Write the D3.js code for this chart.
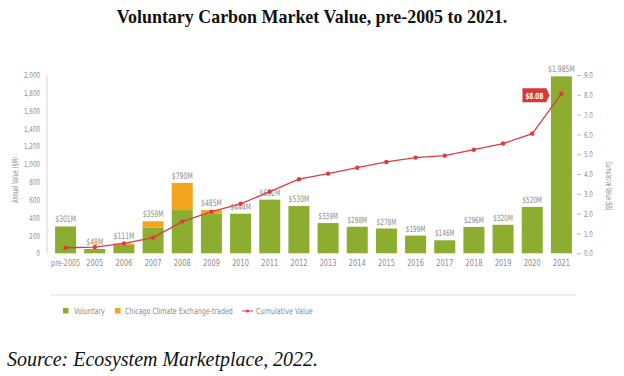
<!DOCTYPE html>
<html><head><meta charset="utf-8">
<script src="https://cdn.jsdelivr.net/npm/d3@7"></script>
<style>
body{margin:0;background:#fff;}
svg{display:block;}
.nar text, text.nar{font-family:"DejaVu Sans",sans-serif;}
</style></head>
<body>
<svg id="c" width="624" height="376"></svg>
<script>
const categories = ["pre-2005","2005","2006","2007","2008","2009","2010","2011","2012","2013","2014","2015","2016","2017","2018","2019","2020","2021"];
const voluntary = [301,48,95,290,485,448,444,602,530,339,298,278,199,146,296,320,520,1985];
const ccx       = [0,0,16,69,305,37,0,0,0,0,0,0,0,0,0,0,0,0];
const totalLabels = ["$301M","$48M","$111M","$359M","$790M","$485M","$444M","$602M","$530M","$339M","$298M","$278M","$199M","$146M","$296M","$320M","$520M","$1,985M"];
const cumulative = [0.28,0.31,0.50,0.79,1.60,2.10,2.50,3.11,3.74,4.02,4.32,4.61,4.83,4.93,5.23,5.54,6.04,8.05];
const leftTicks = [0,200,400,600,800,1000,1200,1400,1600,1800,2000];
const rightTicks = [0,1,2,3,4,5,6,7,8,9];
const calloutText = "$8.0B";
const title = "Voluntary Carbon Market Value, pre-2005 to 2021.";
const source = "Source: Ecosystem Marketplace, 2022.";
const legendItems = ["Voluntary","Chicago Climate Exchange-traded","Cumulative Value"];

const GREEN="#8cad2f", ORANGE="#f4a41f", RED="#de3b40", GREY="#8c8c8c";
const SX = 0.7;
const svg = d3.select("#c");

const x = d3.scaleBand().domain(categories).range([51,576]).paddingInner(0.28).paddingOuter(0.14);
const y = d3.scaleLinear().domain([0,2000]).range([253.3,75]);
const y2 = d3.scaleLinear().domain([0,9]).range([253.3,75]);

function fit(sel, w){ const l = sel.node().getComputedTextLength(); const fs = parseFloat(sel.attr("font-size")); sel.attr("font-size", fs*w/l); }
function condense(sel, s){ sel.each(function(){ const ax = +(this.getAttribute("x")||0); d3.select(this).attr("transform",`translate(${ax},0) scale(${s},1) translate(${-ax},0)`); }); }
function condenseTo(sel, w){ sel.each(function(){ const l=this.getComputedTextLength(); condense(d3.select(this), w/l); }); }

// title
const t = svg.append("text").attr("x",312).attr("y",23).attr("text-anchor","middle")
  .attr("font-family","'Liberation Serif',serif").attr("font-weight","bold")
  .attr("font-size",16).attr("fill","#111").text(title);
fit(t,391);

// axes
const ga = svg.append("g").attr("transform","translate(47,0)").attr("class","nar")
  .call(d3.axisLeft(y).tickValues(leftTicks).tickSize(0).tickPadding(7).tickFormat(d3.format(",")));
ga.select(".domain").attr("stroke","#d4d4d4").attr("d","M0,75V253.3");
ga.selectAll("text").attr("fill",GREY).attr("font-size",8).attr("font-family",null);
condense(ga.selectAll("text"), SX);

const gb = svg.append("g").attr("transform","translate(577,0)").attr("class","nar")
  .call(d3.axisRight(y2).tickValues(rightTicks).tickSize(4).tickPadding(3).tickFormat(d3.format(".1f")));
gb.select(".domain").remove();
gb.selectAll("line").attr("stroke","#bbbbbb");
gb.selectAll("text").attr("fill",GREY).attr("font-size",8).attr("font-family",null);
condense(gb.selectAll("text"), SX);

const gx = svg.append("g").attr("transform","translate(0,256)").attr("class","nar")
  .call(d3.axisBottom(x).tickSize(0).tickPadding(3));
gx.select(".domain").remove();
gx.selectAll("text").attr("fill",GREY).attr("font-size",9.5).attr("font-family",null);
condense(gx.selectAll("text"), SX);
condenseTo(gx.selectAll("text").filter(d=>d==="pre-2005"), 29);

// axis titles
const at1 = svg.append("g").attr("transform","translate(17.5,180) rotate(-90)").append("text").attr("class","nar")
  .attr("x",0).attr("text-anchor","middle").attr("font-size",8.5).attr("fill",GREY).text("Annual Value ($M)");
condenseTo(at1, 46);
const at2 = svg.append("g").attr("transform","translate(606,186) rotate(90)").append("text").attr("class","nar")
  .attr("x",0).attr("text-anchor","middle").attr("font-size",8.5).attr("fill",GREY).text("Cumulative Value ($B)");
condenseTo(at2, 49);

// bars
const bars = svg.append("g");
bars.selectAll("rect.v").data(categories).join("rect").attr("class","v")
  .attr("x",d=>x(d)).attr("width",x.bandwidth())
  .attr("y",(d,i)=>y(voluntary[i])).attr("height",(d,i)=>y(0)-y(voluntary[i])).attr("fill",GREEN);
bars.selectAll("rect.o").data(categories).join("rect").attr("class","o")
  .attr("x",d=>x(d)).attr("width",x.bandwidth())
  .attr("y",(d,i)=>y(voluntary[i]+ccx[i])).attr("height",(d,i)=>y(voluntary[i])-y(voluntary[i]+ccx[i])).attr("fill",ORANGE);

// bar labels
const bl = svg.append("g").attr("class","nar").selectAll("text").data(categories).join("text")
  .attr("x",d=>x(d)+x.bandwidth()/2).attr("y",(d,i)=>y(voluntary[i]+ccx[i])-4)
  .attr("text-anchor","middle").attr("font-size",(d,i)=>i>=9 && i<17 ? 8.5 : 9).attr("fill",GREY).text((d,i)=>totalLabels[i]);
condense(bl, 0.68);

// line
const line = d3.line().x((d,i)=>x(categories[i])+x.bandwidth()/2).y(d=>y2(d));
svg.append("path").datum(cumulative).attr("d",line).attr("fill","none").attr("stroke",RED).attr("stroke-width",1.3);
svg.append("g").selectAll("circle").data(cumulative).join("circle")
  .attr("cx",(d,i)=>x(categories[i])+x.bandwidth()/2).attr("cy",d=>y2(d)).attr("r",2.2).attr("fill",RED);

// callout
const last = cumulative.length-1;
const cx0 = x(categories[last])+x.bandwidth()/2 - 12, cy0 = y2(cumulative[last]) + 1.5;
const cg = svg.append("g");
cg.append("path").attr("d",`M${cx0-27},${cy0-7}H${cx0-3}L${cx0},${cy0}L${cx0-3},${cy0+7}H${cx0-27}Z`).attr("fill","#d9363c");
const ct = cg.append("text").attr("x",cx0-15).attr("y",cy0+3.3).attr("text-anchor","middle")
  .attr("font-family","'DejaVu Sans',sans-serif").attr("font-weight","bold")
  .attr("font-size",8.5).attr("fill","#fff").text(calloutText);
condenseTo(ct, 18);

// legend
svg.append("line").attr("x1",50).attr("x2",576).attr("y1",295).attr("y2",295).attr("stroke","#dddddd").attr("stroke-width",1.2);
const lg = svg.append("g").attr("class","nar");
lg.append("rect").attr("x",63).attr("y",308).attr("width",5.5).attr("height",5.5).attr("fill",GREEN);
const l1 = lg.append("text").attr("x",74).attr("y",314).attr("font-size",8.5).attr("fill",GREY).text(legendItems[0]);
lg.append("rect").attr("x",115).attr("y",308).attr("width",5.5).attr("height",5.5).attr("fill",ORANGE);
const l2 = lg.append("text").attr("x",125).attr("y",314).attr("font-size",8.5).attr("fill",GREY).text(legendItems[1]);
lg.append("line").attr("x1",242).attr("x2",253).attr("y1",311).attr("y2",311).attr("stroke",RED).attr("stroke-width",1);
lg.append("circle").attr("cx",247.5).attr("cy",311).attr("r",1.6).attr("fill",RED);
const l3 = lg.append("text").attr("x",256).attr("y",314).attr("font-size",8.5).attr("fill",GREY).text(legendItems[2]);
condenseTo(l1,31); condenseTo(l2,108); condenseTo(l3,57);

// source
const s = svg.append("text").attr("x",7).attr("y",366)
  .attr("font-family","'Liberation Serif',serif").attr("font-style","italic")
  .attr("font-size",16).attr("fill","#111").text(source);
fit(s,311);
</script>
</body></html>
